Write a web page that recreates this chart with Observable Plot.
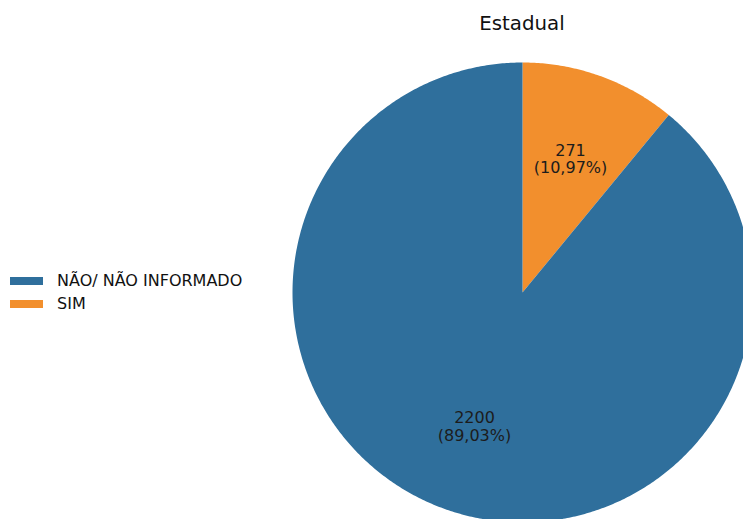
<!DOCTYPE html>
<html>
<head>
<meta charset="utf-8">
<script src="https://cdn.jsdelivr.net/npm/d3@7"></script>
<script src="https://cdn.jsdelivr.net/npm/@observablehq/plot@0.6"></script>
<style>
  html, body { margin: 0; padding: 0; background: #fff; overflow: hidden; }
  #wrap { position: relative; width: 743px; height: 519px; font-family: "DejaVu Sans", sans-serif; }
  #chart { position: absolute; left: 0; top: 0; }
  #title { position: absolute; left: 422px; width: 200px; top: 12px; text-align: center; font-size: 19.8px; color: #111; }
  #legend { position: absolute; left: 10px; top: 269px; font-size: 16px; color: #111; }
  .item { display: flex; align-items: center; height: 23px; }
  .sw { width: 33px; height: 8px; margin-right: 14px; }
</style>
</head>
<body>
<div id="wrap">
  <div id="chart"></div>
  <div id="title">Estadual</div>
  <div id="legend"></div>
</div>
<script>
const title = "Estadual";
const categories = ["NÃO/ NÃO INFORMADO", "SIM"];
const counts = [2200, 271];
const colors = ["#2f6f9c", "#f28f2d"];
const drawOrder = [1, 0]; // SIM starts at 12 o'clock, clockwise

const total = d3.sum(counts);
const pie = d3.pie().sort(null).value(i => counts[i]).startAngle(0).endAngle(2 * Math.PI);
const arcs = pie(drawOrder);

// polygon vertices in unit-circle data space (x = sin θ, y = cos θ)
const pts = [];
arcs.forEach(a => {
  const cat = categories[a.data];
  pts.push({cat, x: 0, y: 0});
  const n = Math.max(2, Math.ceil((a.endAngle - a.startAngle) / (Math.PI / 360)));
  for (let k = 0; k <= n; k++) {
    const t = a.startAngle + (a.endAngle - a.startAngle) * k / n;
    pts.push({cat, x: Math.sin(t), y: Math.cos(t)});
  }
  pts.push({cat, x: 0, y: 0});
});

const fmtPct = v => (v * 100).toFixed(2).replace(".", ",") + "%";
const labels = arcs.map(a => {
  const mid = (a.startAngle + a.endAngle) / 2;
  const r = 0.618;
  return {x: Math.sin(mid) * r, y: Math.cos(mid) * r,
          text: counts[a.data] + "\n(" + fmtPct(counts[a.data] / total) + ")"};
});

// pixel geometry of the reference: centre (522, 292), radius 230
const W = 743, H = 519, cx = 522, cy = 292, R = 230;

const plot = Plot.plot({
  width: W, height: H,
  margin: 0,
  style: {fontFamily: "DejaVu Sans, sans-serif", overflow: "hidden"},
  x: {domain: [-cx / R, (W - cx) / R], axis: null},
  y: {domain: [-(H - cy) / R, cy / R], axis: null},
  color: {domain: categories, range: colors},
  marks: [
    Plot.line(pts, {x: "x", y: "y", z: "cat", fill: "cat", stroke: null, curve: "linear"}),
    Plot.text(labels, {x: "x", y: "y", text: "text", fontSize: 16, lineHeight: 1.1, fill: "#1c1c1c", lineAnchor: "middle"})
  ]
});
document.getElementById("chart").appendChild(plot);

const legend = document.getElementById("legend");
categories.forEach((c, i) => {
  const d = document.createElement("div");
  d.className = "item";
  d.innerHTML = `<span class="sw" style="background:${colors[i]}"></span><span>${c}</span>`;
  legend.appendChild(d);
});
</script>
</body>
</html>
